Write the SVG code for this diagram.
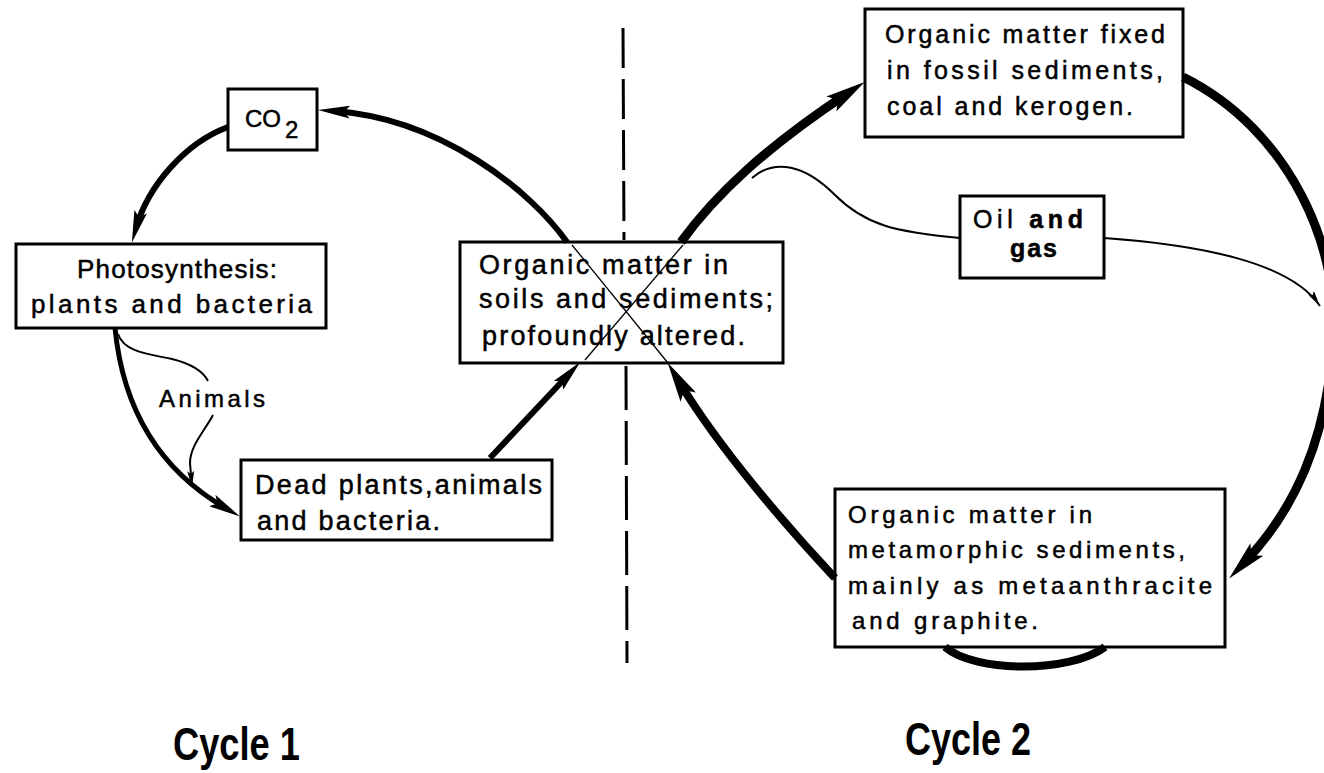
<svg xmlns="http://www.w3.org/2000/svg" width="1324" height="773" viewBox="0 0 1324 773">
<defs>
<style>
.box{fill:#fff;stroke:#000;stroke-width:3}
.t{font-family:"Liberation Sans",Arial,sans-serif;fill:#000;stroke:#000;stroke-width:0.5}
.thick{fill:none;stroke:#000;stroke-linecap:butt}
.thin{fill:none;stroke:#000;stroke-width:2}
.hair{fill:none;stroke:#000;stroke-width:1.3}
.cyc{font-family:"Liberation Sans Narrow","Liberation Sans",Arial,sans-serif;font-weight:bold;font-size:46px;fill:#000}
</style>
<marker id="big" viewBox="0 0 40 18" refX="20" refY="9" markerWidth="40" markerHeight="18" markerUnits="userSpaceOnUse" orient="auto">
<path d="M0,0 L40,9 L0,18 L8,9 z" fill="#000"/>
</marker>
<marker id="med" viewBox="0 0 32 13" refX="17" refY="6.5" markerWidth="32" markerHeight="13" markerUnits="userSpaceOnUse" orient="auto">
<path d="M0,0 L32,6.5 L0,13 L6,6.5 z" fill="#000"/>
</marker>
<marker id="sm" viewBox="0 0 16 7" refX="16" refY="3.5" markerWidth="16" markerHeight="7" markerUnits="userSpaceOnUse" orient="auto">
<path d="M0,0 L16,3.5 L0,7 L3,3.5 z" fill="#000"/>
</marker>
</defs>
<rect width="1324" height="773" fill="#fff"/>

<g id="divider">
<line x1="623" y1="28" x2="624" y2="240" stroke="#000" stroke-width="3" stroke-dasharray="40 11"/>
<line x1="626" y1="366" x2="627" y2="663" stroke="#000" stroke-width="3" stroke-dasharray="44 11"/>
</g>

<g id="co2">
<rect class="box" x="228" y="89" width="89" height="61"/>
<text class="t" font-size="24" x="245" y="127">CO<tspan x="285" y="138">2</tspan></text>
</g>

<g id="photosynthesis">
<rect class="box" x="16" y="244" width="310" height="84"/>
<text class="t" font-size="26" x="77" y="278" textLength="200" lengthAdjust="spacing">Photosynthesis:</text>
<text class="t" font-size="26" x="31" y="313" textLength="281" lengthAdjust="spacing">plants and bacteria</text>
</g>

<g id="animals">
<text class="t" font-size="24" x="159" y="407" textLength="106" lengthAdjust="spacing">Animals</text>
</g>

<g id="dead">
<rect class="box" x="241" y="460" width="311" height="80"/>
<text class="t" font-size="27" x="255" y="494" textLength="287" lengthAdjust="spacing">Dead plants,animals</text>
<text class="t" font-size="27" x="257" y="530" textLength="183" lengthAdjust="spacing">and bacteria.</text>
</g>

<g id="organic-soils">
<rect class="box" x="460" y="242" width="323" height="121"/>
<text class="t" font-size="27" x="479" y="274" textLength="249" lengthAdjust="spacing">Organic matter in</text>
<text class="t" font-size="27" x="479" y="308" textLength="294" lengthAdjust="spacing">soils and sediments;</text>
<text class="t" font-size="27" x="482" y="345" textLength="263" lengthAdjust="spacing">profoundly altered.</text>
</g>

<g id="fossil">
<rect class="box" x="865" y="9" width="318" height="128"/>
<text class="t" font-size="25" x="885" y="43" textLength="280" lengthAdjust="spacing">Organic matter fixed</text>
<text class="t" font-size="25" x="887" y="79" textLength="276" lengthAdjust="spacing">in fossil sediments,</text>
<text class="t" font-size="25" x="887" y="115" textLength="246" lengthAdjust="spacing">coal and kerogen.</text>
</g>

<g id="oil-gas">
<rect class="box" x="960" y="196" width="144" height="82"/>
<text class="t" font-size="25" x="973" y="228" textLength="110" lengthAdjust="spacing">Oil <tspan font-weight="bold">and</tspan></text>
<text class="t" font-size="25" font-weight="bold" x="1010" y="257" textLength="47" lengthAdjust="spacing">gas</text>
</g>

<g id="metamorphic">
<rect class="box" x="835" y="489" width="390" height="158"/>
<text class="t" font-size="24" x="848" y="523" textLength="244" lengthAdjust="spacing">Organic matter in</text>
<text class="t" font-size="24" x="848" y="558" textLength="337" lengthAdjust="spacing">metamorphic sediments,</text>
<text class="t" font-size="24" x="848" y="594" textLength="364" lengthAdjust="spacing">mainly as metaanthracite</text>
<text class="t" font-size="24" x="852" y="629" textLength="186" lengthAdjust="spacing">and graphite.</text>
</g>

<g id="connectors">
<path class="thick" stroke-width="6" d="M567,242 C530,190 440,118 333,111" marker-end="url(#med)"/>
<path class="thick" stroke-width="6" d="M228,127 C185,143 148,186 136,228" marker-end="url(#med)"/>
<path class="thick" stroke-width="5" d="M115,328 C122,400 152,466 227,509" marker-end="url(#med)"/>
<path class="thin" d="M118,334 C124,352 148,354 172,359 C192,364 203,371 208,381"/>
<path class="thin" d="M213,415 C204,432 190,446 190,463 L192,487" marker-end="url(#sm)"/>
<path class="thick" stroke-width="6" d="M490,458 L570,373" marker-end="url(#med)"/>
<path class="thick" stroke-width="9" d="M681,242 C715,195 765,148 848,93" marker-end="url(#big)"/>
<path class="thin" d="M752,178 C775,158 805,165 835,195 C865,225 895,232 960,238"/>
<path class="thin" d="M1104,238 C1200,245 1290,262 1320,306" marker-end="url(#sm)"/>
<path class="thick" stroke-width="9" d="M1183,77 C1290,130 1342,250 1333,345 C1326,440 1295,510 1243,564" marker-end="url(#big)"/>
<path class="thick" stroke-width="8" d="M945,647 C975,673 1070,673 1105,647"/>
<path class="thick" stroke-width="8" d="M835,578 C790,530 720,450 678,380" marker-end="url(#big)"/>
<path class="hair" d="M572,245 L668,363"/>
<path class="hair" d="M683,245 L585,360"/>
</g>

<g id="labels">
<text class="cyc" x="173" y="760" textLength="127" lengthAdjust="spacingAndGlyphs">Cycle 1</text>
<text class="cyc" x="905" y="755" textLength="126" lengthAdjust="spacingAndGlyphs">Cycle 2</text>
</g>
</svg>
